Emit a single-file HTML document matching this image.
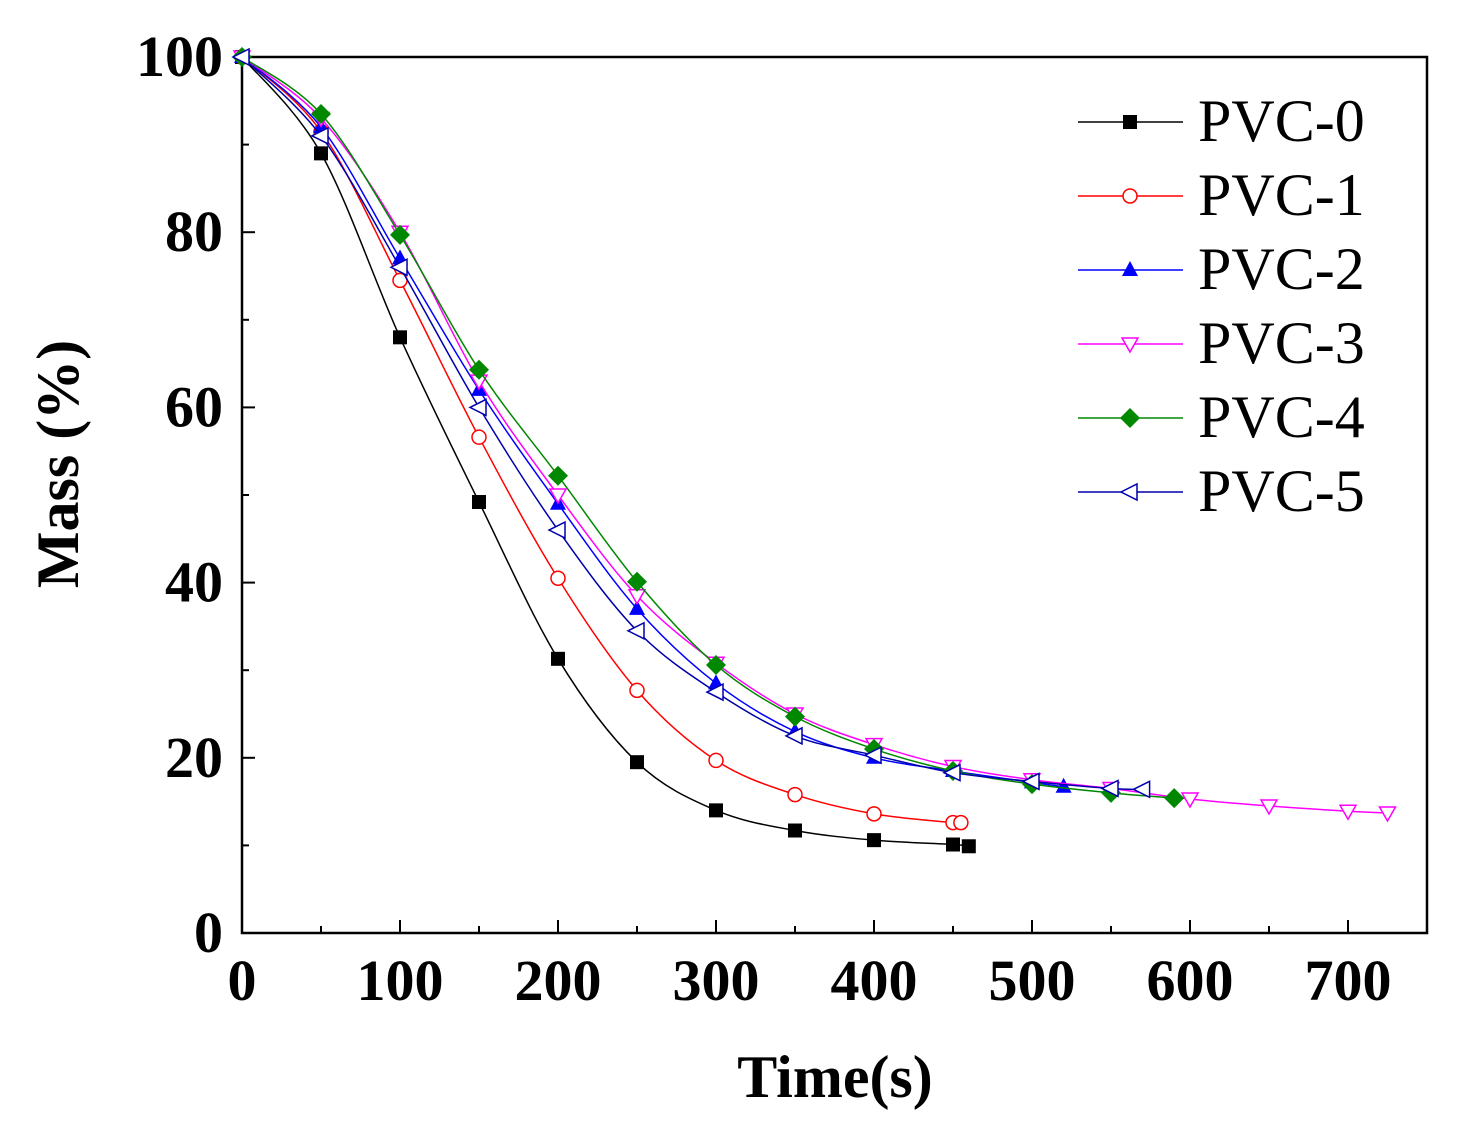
<!DOCTYPE html>
<html><head><meta charset="utf-8"><style>
body{margin:0;background:#fff}
svg text{font-family:"Liberation Serif",serif}
</style></head><body>
<svg id="chart" width="1467" height="1128" viewBox="0 0 1467 1128" xmlns="http://www.w3.org/2000/svg">
<rect width="1467" height="1128" fill="#fff"/>
<g id="plot"></g>
</svg>
<script>
const xTicks=[0,100,200,300,400,500,600,700];
const yTicks=[0,20,40,60,80,100];
const names=["PVC-0","PVC-1","PVC-2","PVC-3","PVC-4","PVC-5"];
const colors=["#000","#f00","#00f","#f0f","#080","#00a"];
const x0=[0,50,100,150,200,250,300,350,400,450,460];
const y0=[100,89,68,49.2,31.3,19.5,14,11.7,10.6,10.1,9.9];
const x1=[0,50,100,150,200,250,300,350,400,450,455];
const y1=[100,91.5,74.5,56.6,40.5,27.7,19.7,15.8,13.6,12.6,12.6];
const x2=[0,50,100,150,200,250,300,350,400,450,500,520];
const y2=[100,92,77,62,49,37,28.5,23,20,18.5,17.2,16.7];
const x3=[0,50,100,150,200,250,300,350,400,450,500,550,600,650,700,725];
const y3=[100,93,80,63,50,38.5,30.8,25,21.5,19,17.5,16.5,15.3,14.5,13.9,13.7];
const x4=[0,50,100,150,200,250,300,350,400,450,500,550,590];
const y4=[100,93.5,79.7,64.3,52.2,40.1,30.6,24.7,21,18.5,17,16,15.4];
const x5=[0,50,100,150,200,250,300,350,400,450,500,550,570];
const y5=[100,91,76,60,46,34.5,27.5,22.5,20.3,18.3,17.3,16.5,16.4];
const xs=[x0,x1,x2,x3,x4,x5], ys=[y0,y1,y2,y3,y4,y5];
const L=242,R=1427,T=57,B=933;
const sx=v=>L+v*(1348-242)/700, sy=v=>B-v*(B-T)/100;
const NS="http://www.w3.org/2000/svg";
const g=document.getElementById('plot');
function mk(t,a,p){const e=document.createElementNS(NS,t);for(const k in a)e.setAttribute(k,a[k]);(p||g).appendChild(e);return e;}
function marker(i,cx,cy,p){const c=colors[i];let e;
 if(i==0)e=mk('rect',{x:cx-7,y:cy-7,width:14,height:14,fill:c},p);
 else if(i==1)e=mk('circle',{cx:cx,cy:cy,r:7,fill:'#fff',stroke:c,'stroke-width':1.5},p);
 else if(i==2)e=mk('path',{d:`M${cx},${cy-9}L${cx+8},${cy+6}L${cx-8},${cy+6}Z`,fill:c},p);
 else if(i==3)e=mk('path',{d:`M${cx},${cy+8}L${cx+8},${cy-6}L${cx-8},${cy-6}Z`,fill:'#fff',stroke:c,'stroke-width':1.5},p);
 else if(i==4)e=mk('path',{d:`M${cx},${cy-10}L${cx+10},${cy}L${cx},${cy+10}L${cx-10},${cy}Z`,fill:c},p);
 else e=mk('path',{d:`M${cx-9},${cy}L${cx+7},${cy-8}L${cx+7},${cy+8}Z`,fill:'#fff',stroke:c,'stroke-width':1.5},p);
 return e;}
function smooth(P){let d=`M${P[0][0]},${P[0][1]}`;for(let i=0;i<P.length-1;i++){const p0=P[Math.max(0,i-1)],p1=P[i],p2=P[i+1],p3=P[Math.min(P.length-1,i+2)];
 d+=`C${p1[0]+(p2[0]-p0[0])/6},${p1[1]+(p2[1]-p0[1])/6} ${p2[0]-(p3[0]-p1[0])/6},${p2[1]-(p3[1]-p1[1])/6} ${p2[0]},${p2[1]}`;}return d;}
const frame=mk('rect',{x:L,y:T,width:R-L,height:B-T,fill:'none',stroke:'#000','stroke-width':2.5});

xTicks.forEach(v=>{const x=sx(v);mk('line',{x1:x,y1:B,x2:x,y2:B-13,stroke:'#000','stroke-width':2});
 mk('line',{x1:sx(v+50),y1:B,x2:sx(v+50),y2:B-7,stroke:'#000','stroke-width':2});
 const t=mk('text',{x:x,y:1000,'text-anchor':'middle','font-size':58,'font-weight':'bold'});t.textContent=v;
 });
yTicks.forEach(v=>{const y=sy(v);mk('line',{x1:L,y1:y,x2:L+13,y2:y,stroke:'#000','stroke-width':2});
 if(v<100)mk('line',{x1:L,y1:sy(v+10),x2:L+7,y2:sy(v+10),stroke:'#000','stroke-width':2});
 const t=mk('text',{x:223,y:y+19,'text-anchor':'end','font-size':58,'font-weight':'bold'});t.textContent=v;
 });
const xt=mk('text',{x:835,y:1097,'text-anchor':'middle','font-size':60,'font-weight':'bold'});xt.textContent='Time(s)';

const yt=mk('text',{x:0,y:0,'text-anchor':'middle','font-size':60,'font-weight':'bold',transform:'translate(78,464) rotate(-90)'});yt.textContent='Mass (%)';

names.forEach((n,i)=>{const sg=mk('g',{});
 
 const P=xs[i].map((v,j)=>[sx(v),sy(ys[i][j])]);
 mk('path',{d:smooth(P),fill:'none',stroke:colors[i],'stroke-width':1.5},sg);
 P.forEach(p=>{const m=marker(i,p[0],p[1],sg);});
 const ly=122+i*74;const lg=mk('g',{});
 
 mk('line',{x1:1078,y1:ly,x2:1183,y2:ly,stroke:colors[i],'stroke-width':1.5},lg);
 marker(i,1130,ly,lg);
 const t=mk('text',{x:1198,y:ly+19,'font-size':60},lg);t.textContent=n;});
</script>
</body></html>
